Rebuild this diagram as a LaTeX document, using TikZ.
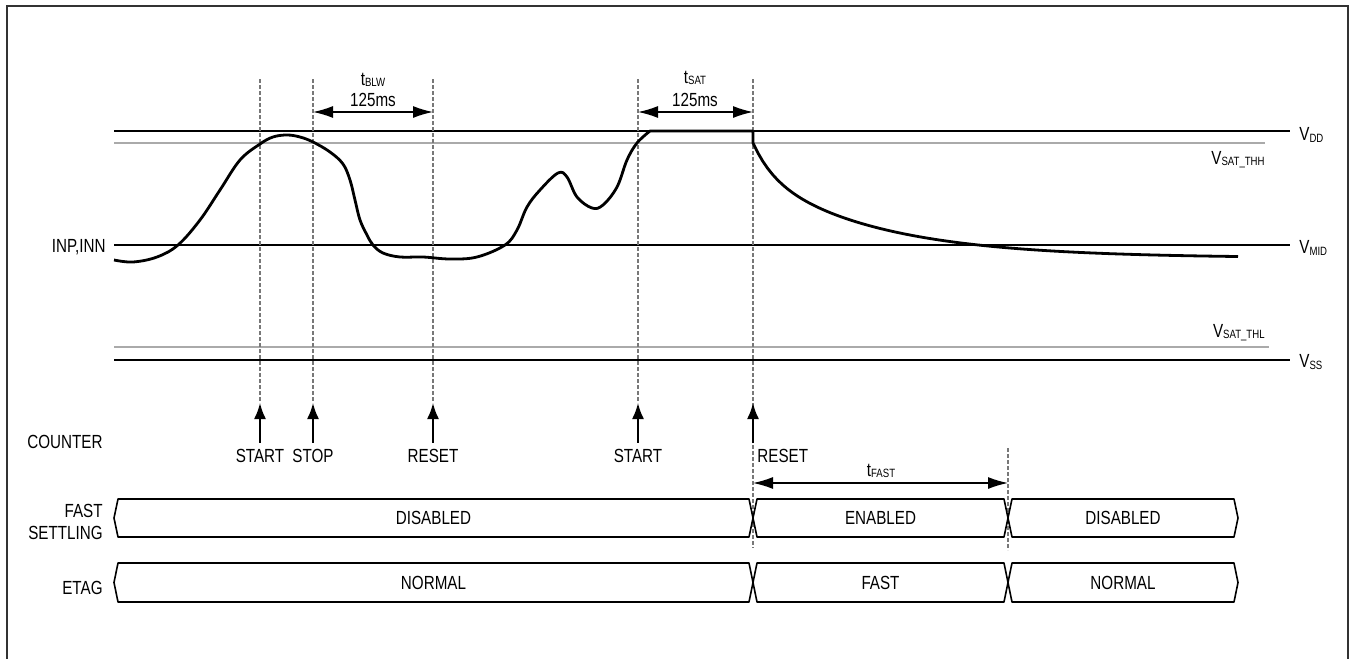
\documentclass[tikz,border=0pt]{standalone}
\usepackage{fontspec}
\setmainfont{Liberation Sans}[FakeStretch=0.8]
\usetikzlibrary{arrows.meta}
\definecolor{rahmengrau}{RGB}{50,50,50}
\definecolor{schwellgrau}{RGB}{170,170,170}
\definecolor{hilfsgrau}{RGB}{120,120,120}
\newcommand{\idx}[1]{\raisebox{-0.6pt}{\fontsize{6}{6}\selectfont #1}}

\begin{document}
\begin{tikzpicture}[x=0.5pt, y=-0.5pt,
				>={Latex[length=10pt,width=6pt]},   %Pfeilspitzen
				font=\fontsize{9.5}{11}\selectfont,
				pegel/.style={line width=0.8pt},
				schwelle/.style={schwellgrau, line width=0.8pt},
				hilfslinie/.style={hilfsgrau, line width=0.6pt, dash pattern=on 2pt off 1pt},
				ereignis/.style={->, line width=1pt, >={Latex[length=8pt,width=6pt]}},
				zeitpfeil/.style={<->, line width=0.7pt},
				bus/.style={line width=0.8pt, line join=round},
				welle/.style={line width=1.4pt, line join=round}]
				\useasboundingbox (0,0) rectangle (1351,659);
				%Rahmen
				\draw[rahmengrau, line width=1pt] (7,659) -- (7,6) -- (1348,6) -- (1348,659);
				% Pegel und Schwellen
				\foreach \y/\n in {131/vdd, 245/vmid, 360/vss} \draw[pegel] (114,\y) -- (1290,\y);
				\draw[schwelle] (114,143) -- (1265,143);
				\draw[schwelle] (114,347) -- (1269,347);
				% Pegel beschriften
				\node[anchor=west, inner sep=0pt] (lvdd) at (1299,135) {V\idx{DD}};
				\node[anchor=east, inner sep=0pt] (lthh) at (1265,160) {V\idx{SAT\_THH}};
				\node[anchor=west, inner sep=0pt] (lmid) at (1299,248) {V\idx{MID}};
				\node[anchor=east, inner sep=0pt] (lthl) at (1265,333) {V\idx{SAT\_THL}};
				\node[anchor=west, inner sep=0pt] (lss) at (1299,362) {V\idx{SS}};
				\node[anchor=east, inner sep=0pt] (linp) at (106,247) {INP,INN};
				% Hilfslinien
				\foreach \x/\n in {260/m1, 313/m2, 433/m3, 638/m4} \draw[hilfslinie] (\x,79) coordinate (\n o) -- (\x,403) coordinate (\n u);
				\draw[hilfslinie] (753,79) coordinate (m5o) -- (753,548) coordinate (m5b);
				\draw[hilfslinie] (1008,448) coordinate (m6o) -- (1008,550) coordinate (m6u);
				\coordinate (m5u) at (753,403);
				% Zeitmarken
				\coordinate (blwa) at (313,112); \coordinate (blwb) at (433,112);
				\coordinate (sata) at (638,112); \coordinate (satb) at (753,112);
				\coordinate (fasta) at (753,483); \coordinate (fastb) at (1008,483);
				\draw[zeitpfeil] (blwa) -- (blwb);
				\draw[zeitpfeil] (sata) -- (satb);
				\draw[zeitpfeil] (fasta) -- (fastb);
				\node (tblw) at (373,80) {t\idx{BLW}};
				\node (blwwert) at (373,100) {125ms};
				\node (tsat) at (695,78) {t\idx{SAT}};
				\node (satwert) at (695,100) {125ms};
				\node (tfast) at (881,471) {t\idx{FAST}};
				% Zaehler-Ereignisse
				\foreach \x/\n/\t [count=\i] in {260/start1/START, 313/stop/STOP, 433/reset1/RESET, 638/start2/START} {
					\node[inner sep=3pt] (\n) at (\x,456) {\t};
					\draw[ereignis] (\n) -- (m\i u);
				}
				\node[anchor=west, inner sep=0pt] (reset2) at (757,456) {RESET};
				\coordinate (r2f) at (753,443);
				\draw[ereignis] (r2f) -- (m5u);
				% Zeilen beschriften
				\node[anchor=east, inner sep=0pt] (zaehler) at (103,442) {COUNTER};
				\node[anchor=east, align=right, inner sep=0pt] (fastset) at (103,522) {FAST\\SETTLING};
				\node[anchor=east, inner sep=0pt] (etag) at (103,588) {ETAG};
				% Busse
				\foreach \xa/\xb/\t [count=\i] in {114/753/DISABLED, 753/1008/ENABLED, 1008/1238/DISABLED} {
					\draw[bus] (\xa+4,499) -- (\xb-4,499) -- (\xb,518) -- (\xb-4,537) -- (\xa+4,537) -- (\xa,518) -- cycle;
					\node (fs\i) at ({(\xa+\xb)/2},518) {\t};
				}
				\foreach \xa/\xb/\t [count=\i] in {114/753/NORMAL, 753/1008/FAST, 1008/1238/NORMAL} {
					\draw[bus] (\xa+4,563) -- (\xb-4,563) -- (\xb,582.5) -- (\xb-4,602) -- (\xa+4,602) -- (\xa,582.5) -- cycle;
					\node (et\i) at ({(\xa+\xb)/2},583) {\t};
				}
				%Signal zeichnen:
				\draw[welle] plot[smooth, tension=0.6] coordinates {(114,260) (133,262) (157,257) (178,245) (200,220) (220,190) (240,160) (260,144) (273,137) (287,135) (300,137) (313,142) (330,152) (343,164) (350,180) (355,200) (360,220) (367,235) (373,245) (383,253) (400,257) (423,257) (450,259) (477,257) (505,245) (517,230) (527,207) (540,190) (558,173) (567,177) (577,197) (592,208) (603,205) (617,187) (627,160) (637,143) (650,131)}
					-- (753,131) -- plot[domain=753:1238, samples=100] (\x, {258-30*exp(-(\x-753)/20)-85*exp(-(\x-753)/120)});
			\end{tikzpicture}
\end{document}
